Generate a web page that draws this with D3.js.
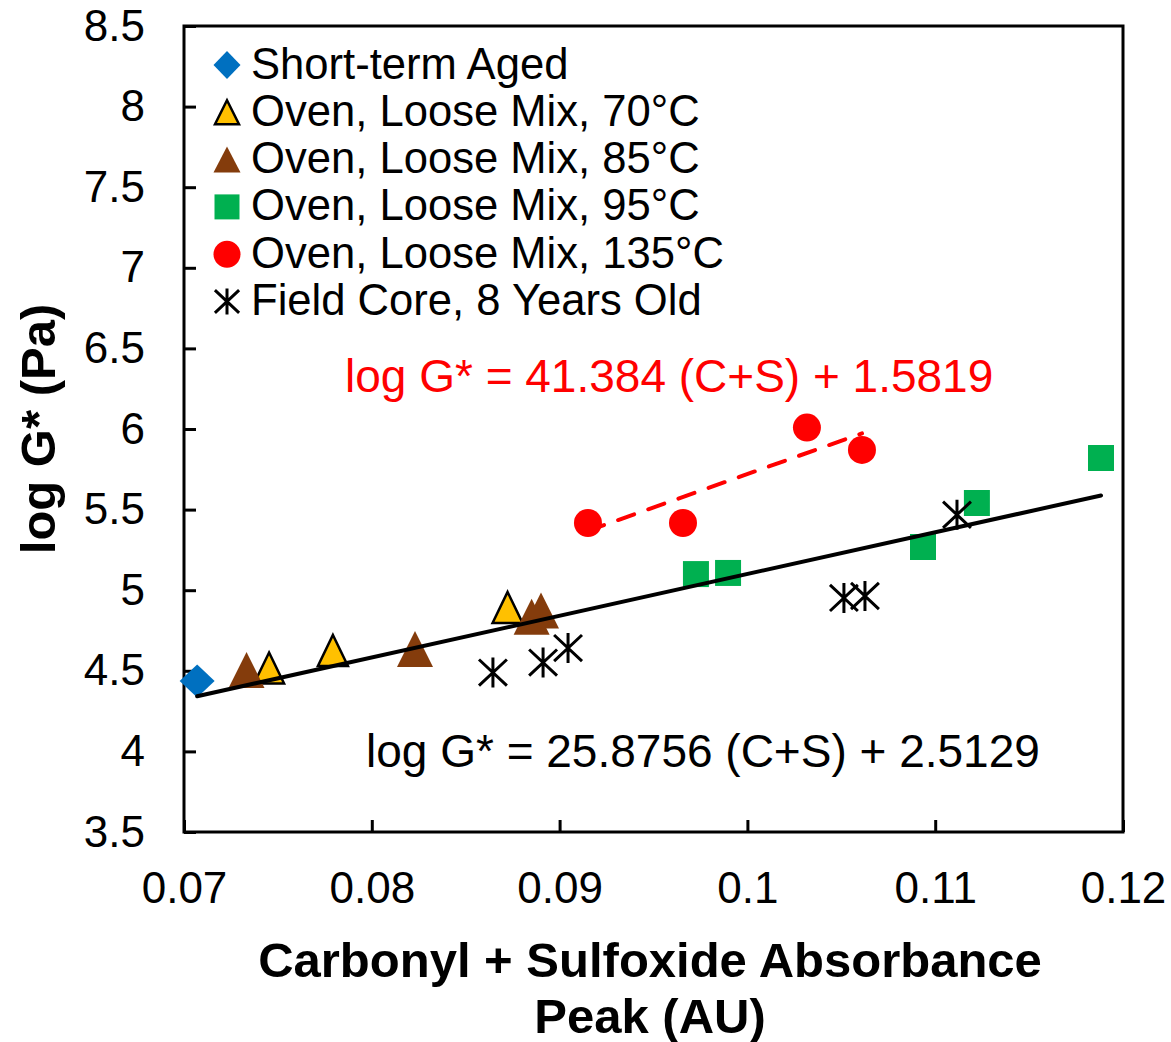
<!DOCTYPE html>
<html><head><meta charset="utf-8">
<script src="https://cdn.jsdelivr.net/npm/d3@7"></script>
<style>
body{margin:0;background:#fff}
svg{display:block}
text{font-family:"Liberation Sans",Arial,Helvetica,sans-serif;fill:#000}
</style>
</head><body>
<svg id="chart" width="1171" height="1042"></svg>
<script>
// ---- data ----
const seriesNames = ["Short-term Aged","Oven, Loose Mix, 70°C","Oven, Loose Mix, 85°C","Oven, Loose Mix, 95°C","Oven, Loose Mix, 135°C","Field Core, 8 Years Old"];
const shortTermX = [0.0707];
const shortTermY = [4.437];
const oven70X = [0.07453, 0.07793, 0.08723];
const oven70Y = [4.517, 4.626, 4.893];
const oven85X = [0.07333, 0.08230, 0.08851, 0.08901];
const oven85Y = [4.505, 4.635, 4.836, 4.874];
const oven95X = [0.09726, 0.09897, 0.10935, 0.11222, 0.11883];
const oven95Y = [5.100, 5.107, 5.268, 5.541, 5.820];
const oven135X = [0.09151, 0.09657, 0.10317, 0.10610];
const oven135Y = [5.417, 5.417, 6.009, 5.870];
const fieldX = [0.08645, 0.08912, 0.09045, 0.10514, 0.10626, 0.11116];
const fieldY = [4.489, 4.551, 4.641, 4.952, 4.964, 5.468];
const trendAll = [25.8756, 2.5129];   // slope, intercept
const trend135 = [41.384, 1.5819];
const eqAllLabel = "log G* = 25.8756 (C+S) + 2.5129";
const eq135Label = "log G* = 41.384 (C+S) + 1.5819";
const xTicks = [0.07, 0.08, 0.09, 0.10, 0.11, 0.12];
const xTickLabels = ["0.07","0.08","0.09","0.1","0.11","0.12"];
const yTicks = [3.5, 4, 4.5, 5, 5.5, 6, 6.5, 7, 7.5, 8, 8.5];
const yTickLabels = ["3.5","4","4.5","5","5.5","6","6.5","7","7.5","8","8.5"];
const xTitle = ["Carbonyl + Sulfoxide Absorbance", "Peak (AU)"];
const yTitle = "log G* (Pa)";

// ---- layout ----
const L = 184, R = 1123, T = 26, B = 832;
const svg = d3.select("#chart");
const x = d3.scaleLinear().domain([0.07, 0.12]).range([L, R]);
const y = d3.scaleLinear().domain([3.5, 8.5]).range([B, T]);

// marker shape paths
const diamond = (w, h) => `M0,${-h}L${w},0L0,${h}L${-w},0Z`;
const triangle = (w, h) => `M0,${-h/2}L${w/2},${h/2}L${-w/2},${h/2}Z`;
const square = s => `M${-s/2},${-s/2}h${s}v${s}h${-s}Z`;
const circle = r => `M${-r},0A${r},${r} 0 1,0 ${r},0A${r},${r} 0 1,0 ${-r},0Z`;
const asterisk = s => `M0,${-s}L0,${s}M${-s*0.93},${-s*0.87}L${s*0.93},${s*0.87}M${-s*0.93},${s*0.87}L${s*0.93},${-s*0.87}`;

const series = [
  {xs: shortTermX, ys: shortTermY, d: diamond(17.5, 16.5), ld: diamond(13.5, 14), fill: "#0070C0", stroke: "none", sw: 0},
  {xs: oven70X, ys: oven70Y, d: triangle(30, 31), ld: triangle(24, 24), fill: "#FFC000", stroke: "#000", sw: 2.5},
  {xs: oven85X, ys: oven85Y, d: triangle(36, 36), ld: triangle(27, 26), fill: "#843C0C", stroke: "none", sw: 0},
  {xs: oven95X, ys: oven95Y, d: square(26), ld: square(25), fill: "#00B050", stroke: "none", sw: 0},
  {xs: oven135X, ys: oven135Y, d: circle(14), ld: circle(13.5), fill: "#FF0000", stroke: "none", sw: 0},
  {xs: fieldX, ys: fieldY, d: asterisk(15), ld: asterisk(13), fill: "none", stroke: "#000", sw: 3}
];

// ---- axes ----
const xAxis = d3.axisBottom(x).tickValues(xTicks).tickFormat((d, i) => xTickLabels[i]).tickSizeInner(-12).tickSizeOuter(0).tickPadding(40);
const gx = svg.append("g").attr("transform", `translate(0,${B})`).call(xAxis);
const yAxis = d3.axisLeft(y).tickValues(yTicks).tickFormat((d, i) => yTickLabels[i]).tickSizeInner(-12).tickSizeOuter(0).tickPadding(39);
const gy = svg.append("g").attr("transform", `translate(${L},0)`).call(yAxis);
[gx, gy].forEach(g => {
  g.select(".domain").remove();
  g.selectAll(".tick line").attr("stroke", "#000").attr("stroke-width", 3);
  g.selectAll(".tick text").attr("font-size", 44).attr("font-family", '"Liberation Sans",Arial,sans-serif').attr("fill", "#000");
});

// frame
svg.append("rect").attr("x", L).attr("y", T).attr("width", R - L).attr("height", B - T)
  .attr("fill", "none").attr("stroke", "#000").attr("stroke-width", 3);

// ---- markers ----
series.forEach(s => {
  svg.append("g").selectAll("path").data(s.xs.map((v, i) => [v, s.ys[i]])).join("path")
    .attr("transform", d => `translate(${x(d[0])},${y(d[1])})`)
    .attr("d", s.d).attr("fill", s.fill).attr("stroke", s.stroke).attr("stroke-width", s.sw)
    .attr("stroke-linejoin", "miter");
});

// ---- trend lines ----
const allX = [].concat(shortTermX, oven70X, oven85X, oven95X, oven135X, fieldX);
const line = d3.line().x(d => x(d)).y(d => y(d.slope * d + d.int));
function trendPts(coef, xs) {
  const ext = d3.extent(xs);
  return ext.map(v => [x(v), y(coef[0] * v + coef[1])]);
}
svg.append("path").attr("d", d3.line()(trendPts(trendAll, allX)))
  .attr("stroke", "#000").attr("stroke-width", 4).attr("fill", "none").attr("stroke-linecap", "round");
svg.append("path").attr("d", d3.line()(trendPts(trend135, oven135X)))
  .attr("stroke", "#FF0000").attr("stroke-width", 4).attr("fill", "none")
  .attr("stroke-dasharray", "17,15").attr("stroke-linecap", "round");

// ---- equations ----
svg.append("text").attr("x", 345).attr("y", 392).attr("font-size", 46).attr("fill", "#FF0000").style("fill", "#FF0000").text(eq135Label);
svg.append("text").attr("x", 366).attr("y", 767).attr("font-size", 46).text(eqAllLabel);

// ---- legend ----
const lg = svg.append("g");
series.forEach((s, i) => {
  const by = 78.5 + i * 47.3;
  lg.append("path").attr("transform", `translate(227,${by - 13.5})`).attr("d", s.ld)
    .attr("fill", s.fill).attr("stroke", s.stroke).attr("stroke-width", s.sw);
  lg.append("text").attr("x", 251).attr("y", by).attr("font-size", 43.6).text(seriesNames[i]);
});

// ---- axis titles ----
svg.append("text").attr("transform", `translate(55,${(T + B) / 2}) rotate(-90)`)
  .attr("text-anchor", "middle").attr("font-weight", "bold").attr("font-size", 49).text(yTitle);
xTitle.forEach((t, i) => {
  svg.append("text").attr("x", 650).attr("y", 977 + i * 56).attr("text-anchor", "middle")
    .attr("font-weight", "bold").attr("font-size", 49).text(t);
});
</script>
</body></html>
